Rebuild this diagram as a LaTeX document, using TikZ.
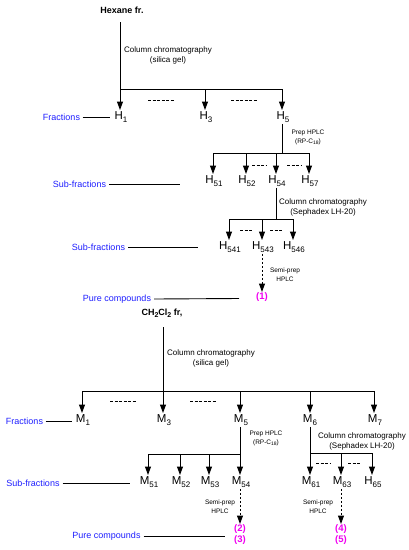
\documentclass[tikz,border=0pt]{standalone}
\usepackage{fontspec}
\setmainfont{Liberation Sans}
\usetikzlibrary{arrows.meta}
\definecolor{fracblue}{RGB}{30,30,255}
\definecolor{cmpmag}{RGB}{240,0,240}
\newcommand\sbs[1]{\raisebox{-0.22em}{\fontsize{8}{9}\selectfont #1}}
\newcommand\tsbs[1]{\raisebox{-0.22em}{\fontsize{5}{6}\selectfont #1}}
\begin{document}
\begin{tikzpicture}[x=1pt,y=-1pt,
  lab/.style={font=\fontsize{11.5}{13}\selectfont, inner sep=1.5pt, anchor=north},
  catlab/.style={text=fracblue, font=\fontsize{9}{11}\selectfont, inner sep=0pt},
  note/.style={font=\fontsize{8}{10}\selectfont, align=center, inner sep=0pt},
  tinynote/.style={font=\fontsize{6.5}{9}\selectfont, align=center, inner sep=0pt},
  titlelab/.style={font=\bfseries\fontsize{9}{11}\selectfont, inner sep=0pt},
  cmp/.style={text=cmpmag, font=\bfseries\fontsize{9.5}{11}\selectfont, align=center, inner sep=0pt, anchor=north},
  conn/.style={line width=1pt},
  arr/.style={conn, -{Triangle[length=8.5pt,width=6pt]}},
  darr/.style={arr, dash pattern=on 2pt off 2pt},
  dsh/.style={line width=0.6pt, dash pattern=on 3pt off 1.5pt},
  leader/.style={line width=0.9pt}]
\useasboundingbox (0,0) rectangle (408,550);

% ---------------- Hexane part ----------------
\node[titlelab] (hex) at (122,10) {Hexane fr.};
\coordinate (hexfoot) at (120,22);
\node[lab] (H1) at (121,110) {H\sbs{1}};
\node[lab] (H3) at (206,110) {H\sbs{3}};
\node[lab] (H5) at (283,110) {H\sbs{5}};
\coordinate (b1L) at (120,89);
\coordinate (b1R) at (282,89);
\draw[arr] (hexfoot) -- (hexfoot |- H1.north);
\draw[conn] (b1L) -- (b1R);
\draw[arr] (b1L -| 205,0) -- (205,0 |- H3.north);
\draw[arr] (b1R) -- (b1R |- H5.north);
\draw[dsh] (148,100) -- (175,100);
\draw[dsh] (231,100) -- (258,100);
\node[note] (cc1) at (168,55) {Column chromatography\\(silica gel)};
\node[catlab] (fr1) at (61.5,117) {Fractions};
\coordinate (fr1end) at (110,117);
\draw[leader] ([xshift=2.5pt]fr1.east) -- (fr1end);

% H5 branch
\node[lab] (H51) at (214,174) {H\sbs{51}};
\node[lab] (H52) at (247,174) {H\sbs{52}};
\node[lab] (H54) at (277,174) {H\sbs{54}};
\node[lab] (H57) at (310,174) {H\sbs{57}};
\coordinate (b2) at (282,153);
\draw[conn] (b1R |- H5.south) -- (b2);
\draw[conn] (213,153) -- (309,153);
\foreach \n/\x in {H51/213,H52/246,H54/276,H57/309} \draw[arr] (\x,153) -- (\x,0 |- \n.north);
\draw[dsh] (252,165) -- (267,165);
\draw[dsh] (287,165) -- (302,165);
\node[tinynote] (ph1) at (308,137.5) {Prep HPLC\\(RP-C\tsbs{18})};
\node[catlab] (sf1) at (79.5,184) {Sub-fractions};
\coordinate (sf1end) at (180,184);
\draw[leader] ([xshift=3pt]sf1.east) -- (sf1end);

% H54 branch
\node[lab] (H541) at (230,240) {H\sbs{541}};
\node[lab] (H543) at (263,240) {H\sbs{543}};
\node[lab] (H546) at (294,240) {H\sbs{546}};
\coordinate (b3) at (276,219);
\draw[conn] (276,0 |- H54.south) -- (b3);
\draw[conn] (229,219) -- (293,219);
\foreach \n/\x in {H541/229,H543/262,H546/293} \draw[arr] (\x,219) -- (\x,0 |- \n.north);
\draw[dsh] (240,230) -- (252,230);
\draw[dsh] (270,230) -- (282,230);
\node[note] (cc2) at (323,207) {Column chromatography\\(Sephadex LH-20)};
\node[catlab] (sf2) at (98.5,247) {Sub-fractions};
\coordinate (sf2end) at (198,247);
\draw[leader] ([xshift=3pt]sf2.east) -- (sf2end);

\node[cmp] (c1) at (262,292) {(1)};
\draw[darr] (262,0 |- H543.south) -- (c1.north);
\node[tinynote] (sp1) at (285,274.5) {Semi-prep\\HPLC};
\node[catlab] (pc1) at (117,299) {Pure compounds};
\coordinate (pc1end) at (239,298.5);
\draw[leader] ([xshift=3pt]pc1.east) -- (pc1end);

% ---------------- CH2Cl2 part ----------------
\node[titlelab] (dcm) at (162,313) {CH\raisebox{-0.22em}{\fontsize{7}{8}\selectfont\bfseries 2}Cl\raisebox{-0.22em}{\fontsize{7}{8}\selectfont\bfseries 2} fr,};
\coordinate (dcmfoot) at (163,327);
\node[lab] (M1) at (83,413) {M\sbs{1}};
\node[lab] (M3) at (164,413) {M\sbs{3}};
\node[lab] (M5) at (241,413) {M\sbs{5}};
\node[lab] (M6) at (310,413) {M\sbs{6}};
\node[lab] (M7) at (375,413) {M\sbs{7}};
\coordinate (b4) at (163,391);
\draw[arr] (dcmfoot) -- (dcmfoot |- M3.north);
\draw[conn] (82,391) -- (374,391);
\foreach \n/\x in {M1/82,M5/240,M6/310,M7/374} \draw[arr] (\x,391) -- (\x,0 |- \n.north);
\draw[dsh] (110,401) -- (136,401);
\draw[dsh] (190,401) -- (216,401);
\node[note] (cc3) at (211,358.5) {Column chromatography\\(silica gel)};
\node[catlab] (fr2) at (24.5,421) {Fractions};
\coordinate (fr2end) at (72,421);
\draw[leader] ([xshift=2.5pt]fr2.east) -- (fr2end);

% M5 branch
\node[lab] (M51) at (149,475) {M\sbs{51}};
\node[lab] (M52) at (181,475) {M\sbs{52}};
\node[lab] (M53) at (210,475) {M\sbs{53}};
\node[lab] (M54) at (241,475) {M\sbs{54}};
\coordinate (b5) at (240,454);
\draw[conn] (240,0 |- M5.south) -- (b5);
\draw[conn] (148,454) -- (b5);
\foreach \n/\x in {M51/148,M52/180,M53/209,M54/240} \draw[arr] (\x,454) -- (\x,0 |- \n.north);
\node[tinynote] (ph2) at (266,438.5) {Prep HPLC\\(RP-C\tsbs{18})};

% M6 branch
\node[lab] (M61) at (311,475) {M\sbs{61}};
\node[lab] (M63) at (342,475) {M\sbs{63}};
\node[lab] (H65) at (373,475) {H\sbs{65}};
\coordinate (b6) at (310,453);
\draw[conn] (310,0 |- M6.south) -- (b6);
\draw[conn] (b6) -- (372,453);
\foreach \n/\x in {M61/310,M63/341,H65/372} \draw[arr] (\x,453) -- (\x,0 |- \n.north);
\draw[dsh] (316,463) -- (330,463);
\draw[dsh] (348,463) -- (360,463);
\node[note] (cc4) at (362,441.5) {Column chromatography\\(Sephadex LH-20)};

\node[catlab] (sf3) at (33,483) {Sub-fractions};
\coordinate (sf3end) at (130,483);
\draw[leader] ([xshift=3pt]sf3.east) -- (sf3end);

\node[cmp] (c23) at (240,524) {(2)\\(3)};
\node[cmp] (c45) at (341,524) {(4)\\(5)};
\draw[darr] (240,0 |- M54.south) -- (c23.north);
\draw[darr] (341,0 |- M63.south) -- (c45.north);
\node[tinynote] (sp2) at (220,506.5) {Semi-prep\\HPLC};
\node[tinynote] (sp3) at (318,506.5) {Semi-prep\\HPLC};
\node[catlab] (pc2) at (106.5,536) {Pure compounds};
\coordinate (pc2end) at (225,536);
\draw[leader] ([xshift=3pt]pc2.east) -- (pc2end);
\end{tikzpicture}
\end{document}
